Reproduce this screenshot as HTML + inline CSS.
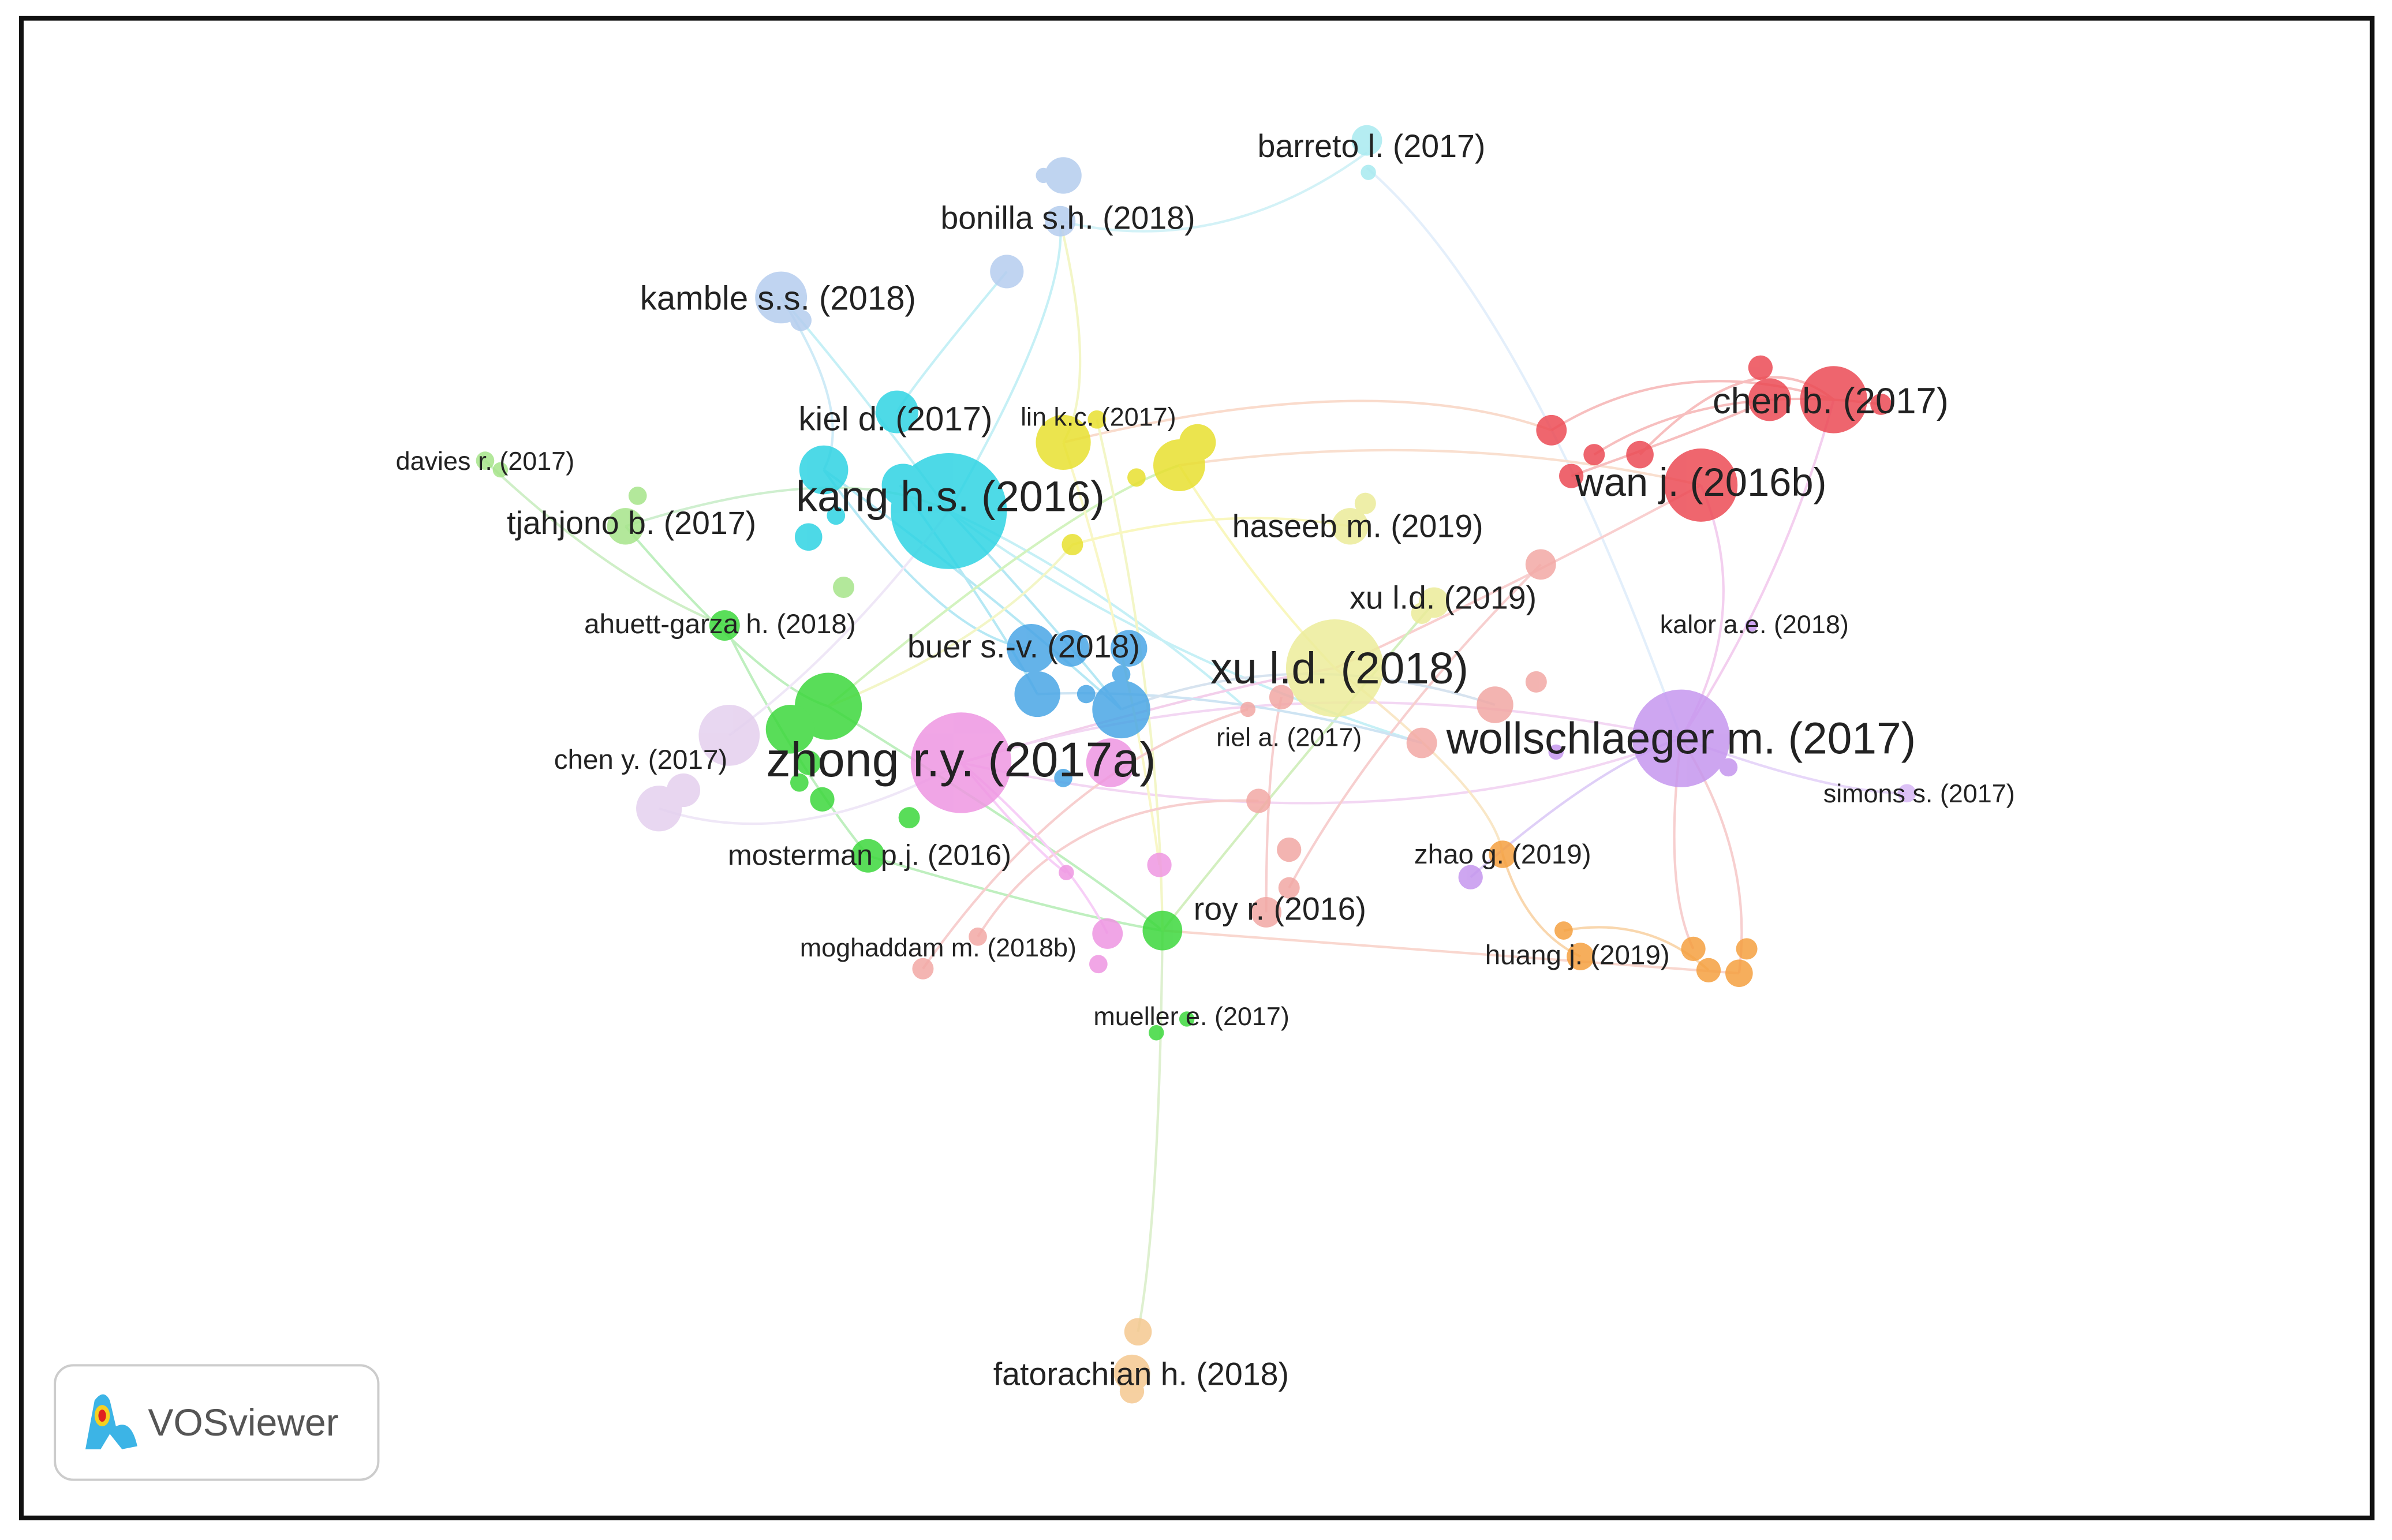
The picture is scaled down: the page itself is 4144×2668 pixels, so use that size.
<!DOCTYPE html>
<html><head><meta charset="utf-8"><style>
html,body{margin:0;padding:0;background:#fff;}
svg{display:block;}
text{font-family:"Liberation Sans",sans-serif;fill:#222;}
</style></head><body>
<svg width="4144" height="2668" viewBox="0 0 1568 1009.5" xmlns="http://www.w3.org/2000/svg">
<rect x="0" y="0" width="1568" height="1010" fill="#fff"/>
<rect x="14" y="12" width="1541" height="983" fill="none" stroke="#111" stroke-width="3"/>
<g fill="none" stroke-width="1.6" opacity="0.5">
<path d="M622,335 Q700,200 695,145" stroke="#8ee3ef"/>
<path d="M622,335 Q560,250 512,195" stroke="#8ee3ef"/>
<path d="M660,178 Q600,250 588,270" stroke="#8ee3ef"/>
<path d="M695,145 Q800,170 896,100" stroke="#a8e6f0"/>
<path d="M896,110 Q1000,200 1102,484" stroke="#c9e0f8"/>
<path d="M622,335 Q700,420 735,465" stroke="#6fd3ea"/>
<path d="M590,318 Q650,400 680,455" stroke="#6fd3ea"/>
<path d="M540,308 Q640,380 735,465" stroke="#6fd3ea"/>
<path d="M540,308 Q620,420 676,425" stroke="#6fd3ea"/>
<path d="M622,335 Q720,380 818,465" stroke="#8ee3ef"/>
<path d="M622,335 Q750,430 932,487" stroke="#8ee3ef"/>
<path d="M697,290 Q900,240 1017,282" stroke="#f5b89a"/>
<path d="M773,305 Q950,280 1115,318" stroke="#f5c0a0"/>
<path d="M875,438 Q1000,380 1115,318" stroke="#f5a0a0"/>
<path d="M1115,318 Q1150,400 1102,484" stroke="#e9a0e0"/>
<path d="M1202,262 Q1170,380 1102,484" stroke="#e9a0e0"/>
<path d="M1017,282 Q1100,230 1202,262" stroke="#f08080"/>
<path d="M1045,298 Q1120,250 1233,265" stroke="#f08080"/>
<path d="M1075,298 Q1150,220 1202,262" stroke="#f08080"/>
<path d="M1030,312 Q1120,280 1160,262" stroke="#f08080"/>
<path d="M630,500 Q800,450 875,438" stroke="#e8a0d8"/>
<path d="M630,500 Q900,560 1102,484" stroke="#e8b0e8"/>
<path d="M630,500 Q850,430 1102,484" stroke="#e8b0e8"/>
<path d="M543,463 Q700,330 773,305" stroke="#a8e880"/>
<path d="M543,463 Q650,420 703,357" stroke="#e8ee90"/>
<path d="M762,610 Q760,800 746,873" stroke="#bde2a0"/>
<path d="M762,610 Q900,620 1140,638" stroke="#f5b0a0"/>
<path d="M762,610 Q850,500 940,395" stroke="#a8e080"/>
<path d="M569,561 Q700,600 762,610" stroke="#80e080"/>
<path d="M543,463 Q700,560 762,610" stroke="#80e080"/>
<path d="M475,410 Q520,500 569,561" stroke="#80e080"/>
<path d="M410,345 Q500,450 543,463" stroke="#80e080"/>
<path d="M318,302 Q400,380 475,410" stroke="#a0e090"/>
<path d="M410,345 Q550,300 622,335" stroke="#a0e0a0"/>
<path d="M1102,484 Q1150,560 1140,638" stroke="#f0a0a0"/>
<path d="M1102,484 Q1090,580 1110,622" stroke="#f0a0a0"/>
<path d="M985,560 Q1000,610 1036,627" stroke="#f5b060"/>
<path d="M1025,610 Q1080,600 1120,636" stroke="#f5b060"/>
<path d="M964,575 Q1050,500 1102,484" stroke="#c0a0f0"/>
<path d="M1102,484 Q1200,520 1250,520" stroke="#d0b0f5"/>
<path d="M875,438 Q980,520 985,560" stroke="#f5d090"/>
<path d="M697,290 Q740,420 760,567" stroke="#f5f090"/>
<path d="M719,275 Q760,450 762,610" stroke="#e8ee90"/>
<path d="M695,145 Q720,250 697,290" stroke="#e8ee90"/>
<path d="M830,598 Q830,500 840,457" stroke="#f0a0a0"/>
<path d="M845,582 Q900,480 1010,370" stroke="#f0a0a0"/>
<path d="M605,635 Q700,500 818,465" stroke="#f0a0a0"/>
<path d="M641,614 Q700,520 825,525" stroke="#f0a0a0"/>
<path d="M630,500 Q700,560 726,612" stroke="#f0a0f0"/>
<path d="M630,500 Q680,560 699,572" stroke="#f0a0f0"/>
<path d="M680,455 Q800,450 932,487" stroke="#9ecbe8"/>
<path d="M735,465 Q850,420 980,462" stroke="#b0c8e0"/>
<path d="M703,357 Q800,330 885,345" stroke="#f5f080"/>
<path d="M773,305 Q820,380 875,438" stroke="#f5f080"/>
<path d="M512,195 Q560,270 540,308" stroke="#a0d8f0"/>
<path d="M478,482 Q550,430 622,335" stroke="#e0d0f0"/>
<path d="M432,530 Q520,560 630,500" stroke="#e0d0f0"/>
</g>
<g opacity="0.85">
<circle cx="896" cy="92" r="10" fill="#a8eaf0"/><circle cx="897" cy="113" r="5" fill="#a8eaf0"/>
<circle cx="697" cy="115" r="12" fill="#b5cdee"/><circle cx="684" cy="115" r="5" fill="#b5cdee"/>
<circle cx="695" cy="145" r="10" fill="#b5cdee"/><circle cx="660" cy="178" r="11" fill="#b5cdee"/>
<circle cx="512" cy="195" r="17" fill="#b5cdee"/><circle cx="525" cy="210" r="7" fill="#b5cdee"/>
<circle cx="622" cy="335" r="38" fill="#2fd3e3"/><circle cx="540" cy="308" r="16" fill="#2fd3e3"/>
<circle cx="588" cy="270" r="14" fill="#2fd3e3"/><circle cx="592" cy="318" r="14" fill="#2fd3e3"/>
<circle cx="530" cy="352" r="9" fill="#2fd3e3"/><circle cx="548" cy="338" r="6" fill="#2fd3e3"/>
<circle cx="697" cy="290" r="18" fill="#e8e030"/><circle cx="773" cy="305" r="17" fill="#e8e030"/>
<circle cx="785" cy="290" r="12" fill="#e8e030"/><circle cx="745" cy="313" r="6" fill="#e8e030"/>
<circle cx="703" cy="357" r="7" fill="#e8e030"/><circle cx="719" cy="275" r="6" fill="#e8e030"/>
<circle cx="875" cy="438" r="32" fill="#ecec9a"/><circle cx="885" cy="345" r="12" fill="#ecec9a"/>
<circle cx="895" cy="330" r="7" fill="#ecec9a"/><circle cx="940" cy="395" r="10" fill="#ecec9a"/>
<circle cx="932" cy="402" r="7" fill="#ecec9a"/>
<circle cx="676" cy="425" r="16" fill="#4aa6e6"/><circle cx="702" cy="425" r="12" fill="#4aa6e6"/>
<circle cx="740" cy="425" r="12" fill="#4aa6e6"/><circle cx="680" cy="455" r="15" fill="#4aa6e6"/>
<circle cx="735" cy="465" r="19" fill="#4aa6e6"/><circle cx="712" cy="455" r="6" fill="#4aa6e6"/>
<circle cx="735" cy="442" r="6" fill="#4aa6e6"/><circle cx="697" cy="510" r="6" fill="#4aa6e6"/>
<circle cx="1202" cy="262" r="22" fill="#ec4b55"/><circle cx="1160" cy="262" r="14" fill="#ec4b55"/>
<circle cx="1154" cy="241" r="8" fill="#ec4b55"/><circle cx="1233" cy="265" r="7" fill="#ec4b55"/>
<circle cx="1115" cy="318" r="24" fill="#ec4b55"/><circle cx="1017" cy="282" r="10" fill="#ec4b55"/>
<circle cx="1045" cy="298" r="7" fill="#ec4b55"/><circle cx="1075" cy="298" r="9" fill="#ec4b55"/>
<circle cx="1030" cy="312" r="8" fill="#ec4b55"/>
<circle cx="1010" cy="370" r="10" fill="#f2a8a4"/><circle cx="980" cy="462" r="12" fill="#f2a8a4"/>
<circle cx="932" cy="487" r="10" fill="#f2a8a4"/><circle cx="1007" cy="447" r="7" fill="#f2a8a4"/>
<circle cx="840" cy="457" r="8" fill="#f2a8a4"/><circle cx="818" cy="465" r="5" fill="#f2a8a4"/>
<circle cx="825" cy="525" r="8" fill="#f2a8a4"/><circle cx="845" cy="557" r="8" fill="#f2a8a4"/>
<circle cx="845" cy="582" r="7" fill="#f2a8a4"/><circle cx="830" cy="598" r="10" fill="#f2a8a4"/>
<circle cx="605" cy="635" r="7" fill="#f2a8a4"/><circle cx="641" cy="614" r="6" fill="#f2a8a4"/>
<circle cx="1102" cy="484" r="32" fill="#c596ee"/><circle cx="1133" cy="503" r="6" fill="#c596ee"/>
<circle cx="1148" cy="410" r="4" fill="#c596ee"/><circle cx="1250" cy="520" r="6" fill="#d6b6f5"/>
<circle cx="964" cy="575" r="8" fill="#c596ee"/><circle cx="1020" cy="493" r="5" fill="#c596ee"/>
<circle cx="630" cy="500" r="33" fill="#ee96e2"/><circle cx="760" cy="567" r="8" fill="#ee96e2"/>
<circle cx="726" cy="612" r="10" fill="#ee96e2"/><circle cx="720" cy="632" r="6" fill="#ee96e2"/>
<circle cx="699" cy="572" r="5" fill="#ee96e2"/><circle cx="728" cy="500" r="16" fill="#ee96e2"/>
<circle cx="478" cy="482" r="20" fill="#e4d0ee"/><circle cx="432" cy="530" r="15" fill="#e4d0ee"/>
<circle cx="448" cy="518" r="11" fill="#e4d0ee"/>
<circle cx="543" cy="463" r="22" fill="#3dd83d"/><circle cx="518" cy="478" r="16" fill="#3dd83d"/>
<circle cx="530" cy="500" r="8" fill="#3dd83d"/><circle cx="524" cy="513" r="6" fill="#3dd83d"/>
<circle cx="539" cy="524" r="8" fill="#3dd83d"/><circle cx="596" cy="536" r="7" fill="#3dd83d"/>
<circle cx="569" cy="561" r="11" fill="#3dd83d"/><circle cx="762" cy="610" r="13" fill="#3dd83d"/>
<circle cx="758" cy="677" r="5" fill="#3dd83d"/><circle cx="778" cy="668" r="5" fill="#3dd83d"/>
<circle cx="475" cy="410" r="10" fill="#3dd83d"/>
<circle cx="410" cy="345" r="12" fill="#a6e48a"/><circle cx="418" cy="325" r="6" fill="#a6e48a"/>
<circle cx="553" cy="385" r="7" fill="#a6e48a"/><circle cx="318" cy="302" r="6" fill="#a6e48a"/>
<circle cx="328" cy="308" r="5" fill="#a6e48a"/>
<circle cx="985" cy="560" r="9" fill="#f5a040"/><circle cx="1036" cy="627" r="9" fill="#f5a040"/>
<circle cx="1025" cy="610" r="6" fill="#f5a040"/><circle cx="1110" cy="622" r="8" fill="#f5a040"/>
<circle cx="1120" cy="636" r="8" fill="#f5a040"/><circle cx="1140" cy="638" r="9" fill="#f5a040"/>
<circle cx="1145" cy="622" r="7" fill="#f5a040"/>
<circle cx="746" cy="873" r="9" fill="#f5c890"/><circle cx="742" cy="900" r="12" fill="#f5c890"/>
<circle cx="742" cy="912" r="8" fill="#f5c890"/>
</g>
<g>
<text x="899" y="103" font-size="21" text-anchor="middle">barreto l. (2017)</text>
<text x="700" y="150" font-size="21" text-anchor="middle">bonilla s.h. (2018)</text>
<text x="510" y="203" font-size="22" text-anchor="middle">kamble s.s. (2018)</text>
<text x="587" y="282" font-size="22" text-anchor="middle">kiel d. (2017)</text>
<text x="720" y="279" font-size="17" text-anchor="middle">lin k.c. (2017)</text>
<text x="1200" y="271" font-size="24" text-anchor="middle">chen b. (2017)</text>
<text x="318" y="308" font-size="17" text-anchor="middle">davies r. (2017)</text>
<text x="623" y="335" font-size="28" text-anchor="middle">kang h.s. (2016)</text>
<text x="1115" y="325" font-size="26" text-anchor="middle">wan j. (2016b)</text>
<text x="414" y="350" font-size="21" text-anchor="middle">tjahjono b. (2017)</text>
<text x="890" y="352" font-size="21" text-anchor="middle">haseeb m. (2019)</text>
<text x="946" y="399" font-size="21" text-anchor="middle">xu l.d. (2019)</text>
<text x="472" y="415" font-size="18" text-anchor="middle">ahuett-garza h. (2018)</text>
<text x="1150" y="415" font-size="17" text-anchor="middle">kalor a.e. (2018)</text>
<text x="671" y="431" font-size="21" text-anchor="middle">buer s.-v. (2018)</text>
<text x="878" y="448" font-size="29" text-anchor="middle">xu l.d. (2018)</text>
<text x="845" y="489" font-size="17" text-anchor="middle">riel a. (2017)</text>
<text x="1102" y="494" font-size="29" text-anchor="middle">wollschlaeger m. (2017)</text>
<text x="420" y="504" font-size="18" text-anchor="middle">chen y. (2017)</text>
<text x="630" y="509" font-size="32" text-anchor="middle">zhong r.y. (2017a)</text>
<text x="1258" y="526" font-size="17" text-anchor="middle">simons s. (2017)</text>
<text x="570" y="567" font-size="19" text-anchor="middle">mosterman p.j. (2016)</text>
<text x="985" y="566" font-size="18" text-anchor="middle">zhao g. (2019)</text>
<text x="839" y="603" font-size="21" text-anchor="middle">roy r. (2016)</text>
<text x="615" y="627" font-size="17" text-anchor="middle">moghaddam m. (2018b)</text>
<text x="1034" y="632" font-size="18" text-anchor="middle">huang j. (2019)</text>
<text x="781" y="672" font-size="17" text-anchor="middle">mueller e. (2017)</text>
<text x="748" y="908" font-size="21" text-anchor="middle">fatorachian h. (2018)</text>
</g>
<rect x="36" y="895" width="212" height="75" rx="12" fill="#fff" stroke="#ccc" stroke-width="1.5"/>
<path d="M56,950 L62,918 Q68,910 72,918 L76,935 Q86,930 90,948 L80,950 L72,940 L66,950 Z" fill="#3cb4e6"/>
<ellipse cx="67" cy="928" rx="5" ry="7" fill="#f5d020"/>
<ellipse cx="67" cy="928" rx="2.5" ry="4" fill="#e02020"/>
<text x="97" y="941" font-size="25" style="fill:#555">VOSviewer</text>
</svg>
</body></html>
